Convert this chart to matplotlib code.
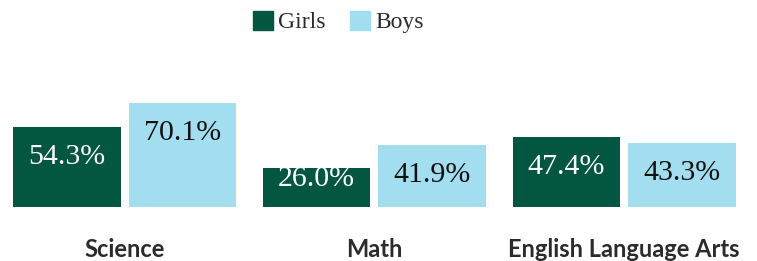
import numpy as np
import matplotlib.pyplot as plt
from matplotlib.patches import Patch

# data
subjects = ["Science", "Math", "English Language Arts"]
girls = [54.3, 26.0, 47.4]
boys = [70.1, 41.9, 43.3]

green = "#03563f"
blue = "#a2ddf0"

W, H = 757, 261
fig = plt.figure(figsize=(W / 100, H / 100), dpi=100)
# axes placed so the bar baseline sits at the same pixel row as the reference
ax = fig.add_axes([0, 54.3 / H, 1, 150 / H])
ax.set_xlim(-0.4994, (W - 124.7) / 249.7)
ax.set_ylim(0, 150 / 1.475)

x = np.arange(len(subjects))
bw = 0.4305
off = 0.2313
b1 = ax.bar(x - off, girls, bw, color=green, linewidth=0)
b2 = ax.bar(x + off, boys, bw, color=blue, linewidth=0)

# value labels sit near the top of each bar, but not lower than a floor
for xs, vals, col in [(x - off, girls, "white"), (x + off, boys, "#111111")]:
    for xi, v in zip(xs, vals):
        ax.text(xi, max(v - 20.3, 19), f"{v:.1f}%", ha="center", va="center",
                color=col, fontsize=21.5, family="Liberation Serif")

ax.set_xticks(x)
ax.set_xticklabels(subjects, fontsize=17, fontweight="bold", family="Lato", color="#2b2b2b")
ax.tick_params(axis="x", length=0, pad=22.5)
ax.set_yticks([])
for s in ax.spines.values():
    s.set_visible(False)

handles = [Patch(color=green, label="Girls"), Patch(color=blue, label="Boys")]
leg = fig.legend(handles=handles, loc="center", bbox_to_anchor=(338.5 / W, 1 - 22 / H),
                 ncol=2, frameon=False, handlelength=0.85, handleheight=0.85,
                 handletextpad=0.2, columnspacing=1.05, borderpad=0, borderaxespad=0,
                 prop={"family": "Liberation Serif", "size": 17})
for t in leg.get_texts():
    t.set_color("#2b2b2b")

fig.savefig("out.png", dpi=100)
